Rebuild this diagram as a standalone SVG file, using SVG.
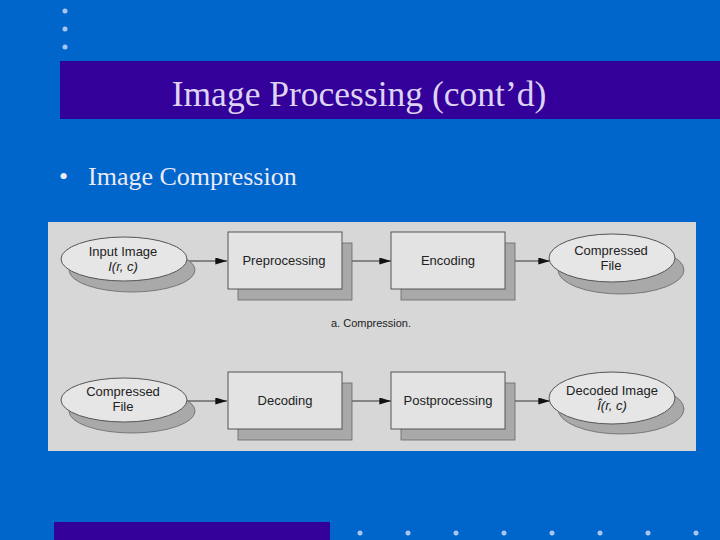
<svg xmlns="http://www.w3.org/2000/svg" width="720" height="540" viewBox="0 0 720 540">
<defs>
<style>
.dot{fill:#A9C6EE}
.title{font-family:"Liberation Serif","Times New Roman",serif;font-size:35.5px;fill:#DDD3F2}
.bul{font-family:"Liberation Serif","Times New Roman",serif;font-size:26px;fill:#ECEAF8}
.lbl{font-family:"Liberation Sans",Arial,sans-serif;font-size:13px;fill:#222;text-anchor:middle}
.cap{font-family:"Liberation Sans",Arial,sans-serif;font-size:11px;fill:#222;text-anchor:middle}
.box{fill:#E3E3E3;stroke:#555;stroke-width:1}
.sh{fill:#A9A9A9;stroke:#666;stroke-width:0.8}
.ell{fill:#E6E6E6;stroke:#555;stroke-width:1}
.con{stroke:#333;stroke-width:1;fill:none;marker-end:url(#ah)}
</style>
<marker id="ah" viewBox="0 0 10 6" refX="10" refY="3" markerWidth="12" markerHeight="7" markerUnits="userSpaceOnUse" orient="auto">
<path d="M0,0 L10,3 L0,6 Z" fill="#111"/>
</marker>
</defs>
<rect width="720" height="540" fill="#0066CC"/>
<circle class="dot" cx="65" cy="11" r="2.5"/>
<circle class="dot" cx="65" cy="29" r="2.5"/>
<circle class="dot" cx="65" cy="47" r="2.5"/>
<rect x="60" y="61" width="660" height="58" fill="#330099"/>
<text class="title" x="359" y="106" text-anchor="middle">Image Processing (cont’d)</text>
<text class="bul" x="59" y="185">•</text>
<text class="bul" x="88" y="185">Image Compression</text>

<rect x="48" y="222" width="648" height="229" fill="#D7D7D7"/>

<g id="connectors">
<line class="con" x1="187" y1="261" x2="227" y2="261"/>
<line class="con" x1="342" y1="261" x2="391" y2="261"/>
<line class="con" x1="505" y1="261" x2="550" y2="261"/>
<line class="con" x1="187" y1="401" x2="227" y2="401"/>
<line class="con" x1="342" y1="401" x2="391" y2="401"/>
<line class="con" x1="505" y1="401" x2="550" y2="401"/>
</g>

<g id="input-image">
<ellipse class="sh" cx="132" cy="270" rx="63" ry="22"/>
<ellipse class="ell" cx="124" cy="259" rx="63" ry="22"/>
<text class="lbl" x="123" y="256">Input Image</text>
<text class="lbl" x="123" y="271" font-style="italic">I(r, c)</text>
</g>
<g id="preprocessing">
<rect class="sh" x="238" y="243" width="114" height="57"/>
<rect class="box" x="228" y="232" width="114" height="57"/>
<text class="lbl" x="284" y="265">Preprocessing</text>
</g>
<g id="encoding">
<rect class="sh" x="401" y="243" width="114" height="57"/>
<rect class="box" x="391" y="232" width="114" height="57"/>
<text class="lbl" x="448" y="265">Encoding</text>
</g>
<g id="compressed-file-1">
<ellipse class="sh" cx="621" cy="270" rx="63" ry="24"/>
<ellipse class="ell" cx="612" cy="258" rx="63" ry="24"/>
<text class="lbl" x="611" y="255">Compressed</text>
<text class="lbl" x="611" y="270">File</text>
</g>
<text class="cap" x="371" y="327">a. Compression.</text>

<g id="compressed-file-2">
<ellipse class="sh" cx="132" cy="411" rx="63" ry="22"/>
<ellipse class="ell" cx="124" cy="400" rx="63" ry="22"/>
<text class="lbl" x="123" y="396">Compressed</text>
<text class="lbl" x="123" y="411">File</text>
</g>
<g id="decoding">
<rect class="sh" x="238" y="383" width="114" height="57"/>
<rect class="box" x="228" y="372" width="114" height="57"/>
<text class="lbl" x="285" y="405">Decoding</text>
</g>
<g id="postprocessing">
<rect class="sh" x="401" y="383" width="114" height="57"/>
<rect class="box" x="391" y="372" width="114" height="57"/>
<text class="lbl" x="448" y="405">Postprocessing</text>
</g>
<g id="decoded-image">
<ellipse class="sh" cx="621" cy="409" rx="63" ry="25"/>
<ellipse class="ell" cx="612" cy="398" rx="63" ry="26"/>
<text class="lbl" x="612" y="395">Decoded Image</text>
<text class="lbl" x="612" y="410" font-style="italic">Î(r, c)</text>
</g>

<rect x="54" y="522" width="276" height="18" fill="#330099"/>
<circle class="dot" cx="360" cy="533" r="2.5"/>
<circle class="dot" cx="408" cy="533" r="2.5"/>
<circle class="dot" cx="456" cy="533" r="2.5"/>
<circle class="dot" cx="504" cy="533" r="2.5"/>
<circle class="dot" cx="552" cy="533" r="2.5"/>
<circle class="dot" cx="600" cy="533" r="2.5"/>
<circle class="dot" cx="648" cy="533" r="2.5"/>
<circle class="dot" cx="696" cy="533" r="2.5"/>
</svg>
